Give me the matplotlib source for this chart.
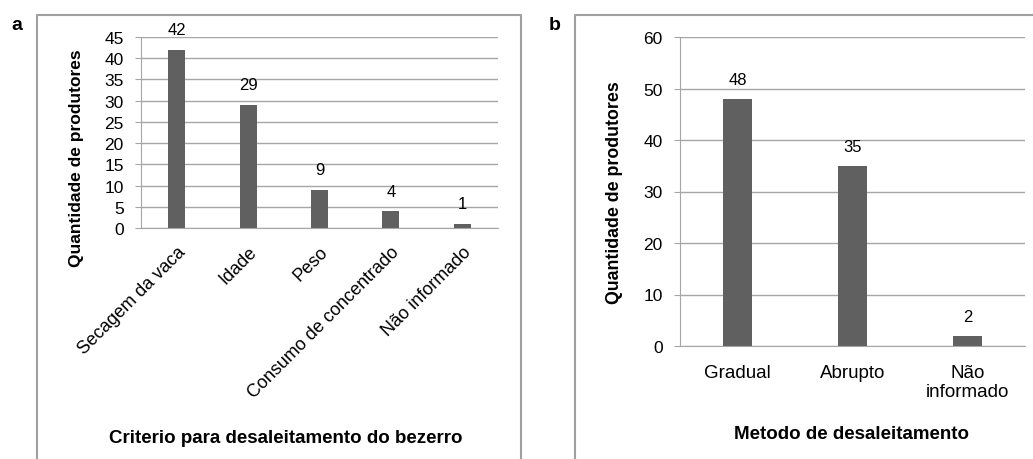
import matplotlib.pyplot as plt
from matplotlib.lines import Line2D

plt.rcParams['font.family'] = ['Liberation Sans', 'DejaVu Sans']

# ── Data ──────────────────────────────────────────────────────────────────────
criterios       = ['Secagem da vaca', 'Idade', 'Peso',
                   'Consumo de concentrado', 'Não informado']
criterios_vals  = [42, 29, 9, 4, 1]
metodos         = ['Gradual', 'Abrupto', 'Não\ninformado']
metodos_vals    = [48, 35, 2]

BAR_COLOR  = '#606060'
GRID_COLOR = '#a6a6a6'
W, H = 1033, 460


def px_axes(fig, left, top, right, bottom):
    return fig.add_axes([left / W, 1 - bottom / H,
                         (right - left) / W, (bottom - top) / H])


def style_axes(ax, ymax, step, fs):
    ax.set_ylim(0, ymax)
    ax.set_yticks(range(0, ymax + 1, step))
    ax.grid(True, axis='y', color=GRID_COLOR, lw=1)
    ax.set_axisbelow(True)
    for s in ['top', 'right']:
        ax.spines[s].set_visible(False)
    for s in ['left', 'bottom']:
        ax.spines[s].set_color(GRID_COLOR)
    ax.tick_params(axis='y', length=4.5, color=GRID_COLOR, pad=8,
                   labelsize=fs, labelcolor='black')
    ax.tick_params(axis='x', length=0)


fig = plt.figure(figsize=(W / 100, H / 100), dpi=100)

# panel frames
fig.add_artist(Line2D([37 / W, 37 / W, 521 / W, 521 / W],
                      [0, 1 - 16 / H, 1 - 16 / H, 0],
                      color='#a0a0a0', lw=1.5))
fig.add_artist(Line2D([575 / W, 575 / W, 1.0],
                      [0, 1 - 16 / H, 1 - 16 / H],
                      color='#a0a0a0', lw=1.5))
fig.text(17 / W, 1 - 25 / H, 'a', fontsize=14, fontweight='bold',
         ha='center', va='center')
fig.text(555 / W, 1 - 25 / H, 'b', fontsize=14, fontweight='bold',
         ha='center', va='center')

# ── Panel a ──────────────────────────────────────────────────────────────────
ax1 = px_axes(fig, 141, 38, 498, 229)
bars1 = ax1.bar(range(len(criterios)), criterios_vals, width=0.24,
                color=BAR_COLOR)
ax1.set_xlim(-0.5, len(criterios) - 0.5)
style_axes(ax1, 45, 5, 12.5)
ax1.set_xticks(range(len(criterios)))
ax1.set_xticklabels(criterios, rotation=45, ha='right', va='top',
                    rotation_mode='anchor', fontsize=13)
ax1.tick_params(axis='x', pad=11)
ax1.bar_label(bars1, padding=9, fontsize=12)
ax1.set_ylabel('Quantidade de produtores', fontsize=12.5, fontweight='bold')
ax1.yaxis.set_label_coords(-0.16, 0.372)
ax1.set_xlabel('Criterio para desaleitamento do bezerro', fontsize=13.5,
               fontweight='bold')
ax1.xaxis.set_label_coords(0.406, -1.05)

# ── Panel b ──────────────────────────────────────────────────────────────────
ax2 = px_axes(fig, 680, 38, 1025, 347)
bars2 = ax2.bar(range(len(metodos)), metodos_vals, width=0.245,
                color=BAR_COLOR)
ax2.set_xlim(-0.5, len(metodos) - 0.5)
style_axes(ax2, 60, 10, 12.5)
ax2.set_xticks(range(len(metodos)))
ax2.set_xticklabels(metodos, fontsize=13.5, linespacing=1.15)
ax2.tick_params(axis='x', pad=13)
ax2.bar_label(bars2, padding=8.5, fontsize=12)
ax2.set_ylabel('Quantidade de produtores', fontsize=12.75, fontweight='bold')
ax2.yaxis.set_label_coords(-0.165, 0.5)
ax2.set_xlabel('Metodo de desaleitamento', fontsize=13.5, fontweight='bold')
ax2.xaxis.set_label_coords(0.496, -0.255)

fig.savefig('out.png', dpi=100)
